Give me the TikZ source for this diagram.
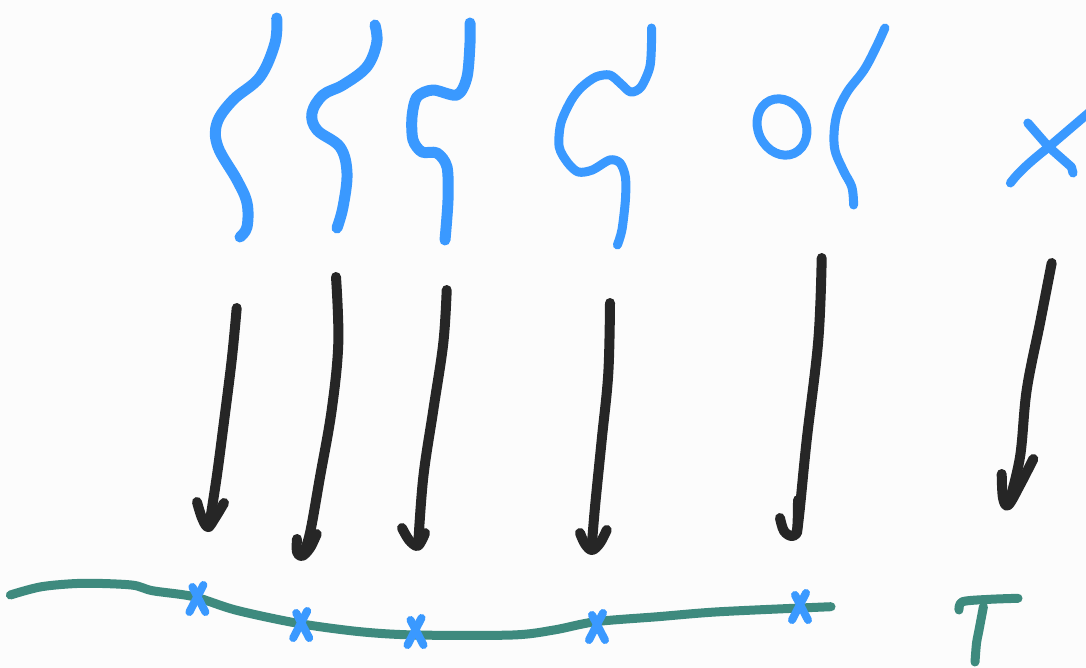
\documentclass[tikz,border=0pt]{standalone}
\usetikzlibrary{calc}
\definecolor{sblue}{HTML}{3A99FF}
\definecolor{sblack}{HTML}{262626}
\definecolor{sgreen}{HTML}{3E8A7E}
\definecolor{bg}{HTML}{FCFCFC}
\tikzset{
  bluestroke/.style={draw=sblue,line width=11pt,line cap=round,line join=round},
  thinblue/.style={draw=sblue,line width=9pt,line cap=round,line join=round},
  blackstroke/.style={draw=sblack,line width=10pt,line cap=round,line join=round},
  greenstroke/.style={draw=sgreen,line width=9pt,line cap=round,line join=round},
  markstroke/.style={draw=sblue,line width=8pt,line cap=round,line join=round},
}
\newcommand{\xmark}[2]{%
  \draw[markstroke] ($(#1,#2)+(-8,13)$) -- ($(#1,#2)+(6,-14)$);
  \draw[markstroke] ($(#1,#2)+(-5,-12)$) -- ($(#1,#2)+(8,13)$);}
\begin{document}
\begin{tikzpicture}[x=1pt,y=-1pt]
\fill[bg] (0,0) rectangle (1086,668);
\useasboundingbox (0,0) rectangle (1086,668);

% blue curves
\draw[bluestroke] plot[smooth,tension=0.6] coordinates {(276.7,18) (275,43) (260,77) (233,100) (217,123) (218,147) (237,180) (247,203) (247,227) (240,237)};
\draw[bluestroke] plot[smooth,tension=0.6] coordinates {(375,25) (376.7,43) (366.7,67) (343,85) (323,95) (312,113) (317,130) (340,147) (347,173) (343,207) (337,228)};
\draw[bluestroke] plot[smooth,tension=0.5] coordinates {(470,23) (470,43) (467,77) (457,95) (433,90) (417,97) (412,117) (413,140) (422,152) (437,153) (447,167) (448,200) (445,240)};
\draw[thinblue] plot[smooth,tension=0.5] coordinates {(651.5,28) (651.5,43) (649.8,67) (641,87) (630.6,92) (620,83) (609.7,75) (595.7,77) (581.8,87) (571.4,100) (560.9,123) (559.2,147) (567.9,163) (578.3,172) (592.3,170) (609.7,160) (620,163) (625.4,177) (625.4,200) (621.9,230) (617.4,245)};
\draw[thinblue,rotate around={25:(782,127)}] (782,127) ellipse [x radius=24,y radius=29];
\draw[thinblue] plot[smooth,tension=0.6] coordinates {(884.9,28) (876.2,47) (864,70) (846.6,93) (836.2,117) (834.4,147) (843.1,170) (851.8,187) (853.6,205)};
\draw[thinblue] (1010.4,183) .. controls (1020,170) and (1035,158) .. (1048.7,147) -- (1092,110);
\draw[thinblue] (1027.8,123) -- (1048.7,147) -- (1071.4,167) -- (1073,173);

% black arrows
\draw[blackstroke] plot[smooth,tension=0.6] coordinates {(236.7,308) (231.7,360) (223.3,427) (216.7,477) (209,527)};
\draw[blackstroke] plot[smooth,tension=0.6] coordinates {(197,502) (202,518) (208,527) (215,518) (224,503)};

\draw[blackstroke] plot[smooth,tension=0.6] coordinates {(336,277) (338.3,343) (331.7,410) (320,477) (310,533) (303.3,553)};
\draw[blackstroke] plot[smooth,tension=0.6] coordinates {(297,539) (297,552) (302,556) (310,548) (316.7,534)};

\draw[blackstroke] plot[smooth,tension=0.6] coordinates {(446.7,290) (443.3,343) (433.3,410) (423.3,477) (418.3,543)};
\draw[blackstroke] plot[smooth,tension=0.6] coordinates {(402,528) (409,540) (417,546) (422,540) (425,533)};

\draw[blackstroke] plot[smooth,tension=0.6] coordinates {(610,303) (608.3,373) (601.7,440) (595,507) (591.7,547)};
\draw[blackstroke] plot[smooth,tension=0.6] coordinates {(580,533) (585,544) (592,550) (600,543) (606.7,530)};

\draw[blackstroke] plot[smooth,tension=0.6] coordinates {(821.7,258) (818.3,340) (806.7,440) (800,507) (797,533)};
\draw[blackstroke] plot[smooth,tension=0.6] coordinates {(780,518) (784,531) (792,536) (797,530) (798,500)};

\draw[blackstroke] plot[smooth,tension=0.6] coordinates {(1051.7,263) (1040,323) (1026.7,390) (1020,457) (1008.3,505)};
\draw[blackstroke] plot[smooth,tension=0.6] coordinates {(1001.7,474) (1003,498) (1008.3,505) (1020,485) (1033.3,459)};

% green line
\draw[greenstroke] plot[smooth,tension=0.5] coordinates {(10.4,595) (41.6,586.7) (83.1,583.3) (131.6,585) (152.4,590.7) (193.9,596.7) (235.5,610) (297.8,623.3) (360.1,631.7) (415.5,635) (512.5,635) (554,630) (595.6,621.7) (657.9,616.7) (720.2,611.7) (831,606.7)};

% marks
\xmark{197.4}{599}
\xmark{301.2}{625}
\xmark{415.5}{632}
\xmark{597}{627}
\xmark{800}{607}

% T
\draw[greenstroke] plot[smooth,tension=0.5] coordinates {(959,610) (962.6,601.7) (990,599.3) (1018,598.3)};
\draw[greenstroke] plot[smooth,tension=0.5] coordinates {(983.4,606.7) (979,630) (976.5,643.3) (975,662)};
\end{tikzpicture}
\end{document}
